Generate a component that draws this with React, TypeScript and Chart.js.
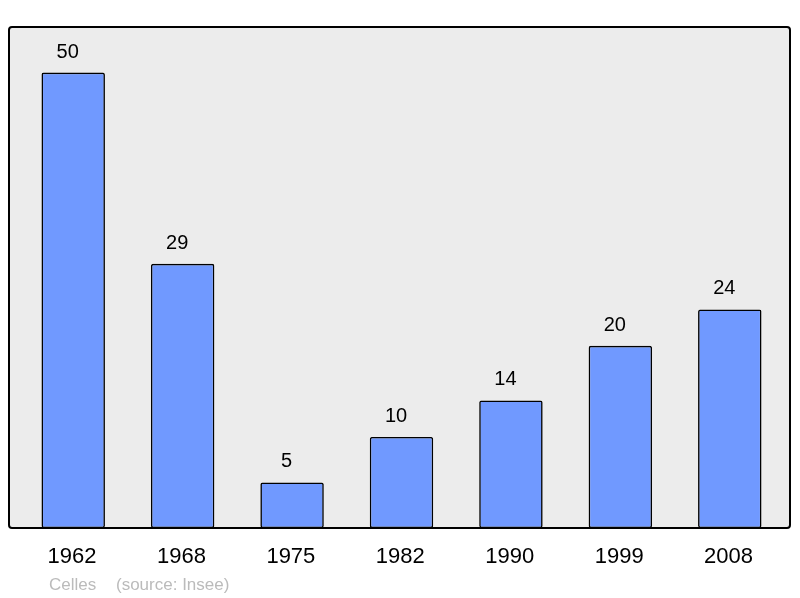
import React, { useEffect, useRef } from "react";
import { Chart, registerables } from "chart.js";

Chart.register(...registerables);

const years = ["1962", "1968", "1975", "1982", "1990", "1999", "2008"];
const population = [50, 29, 5, 10, 14, 20, 24];
const footerPlace = "Celles";
const footerSource = "(source: Insee)";

const FONT = "'Liberation Sans', Arial, sans-serif";

const framePlugin = {
  id: "frame",
  beforeDraw(chart: any) {
    const { ctx, chartArea } = chart;
    const l = chartArea.left - 9.5;
    const r = chartArea.right + 5.5;
    const t = chartArea.top;
    const b = chartArea.bottom;
    ctx.save();
    ctx.beginPath();
    ctx.roundRect(l, t, r - l, b - t, 3);
    ctx.fillStyle = "#ececec";
    ctx.fill();
    ctx.restore();
  },
  afterDatasetsDraw(chart: any) {
    const { ctx, chartArea } = chart;
    const l = chartArea.left - 9.5;
    const r = chartArea.right + 5.5;
    const t = chartArea.top;
    const b = chartArea.bottom;
    ctx.save();
    ctx.beginPath();
    ctx.roundRect(l, t, r - l, b - t, 3);
    ctx.lineWidth = 2;
    ctx.strokeStyle = "#000";
    ctx.stroke();

    const meta = chart.getDatasetMeta(0);
    const xScale = chart.scales.x;
    ctx.fillStyle = "#000";
    ctx.textAlign = "center";
    ctx.textBaseline = "middle";
    ctx.font = `20px ${FONT}`;
    meta.data.forEach((bar: any, i: number) => {
      ctx.fillText(String(population[i]), bar.x - 5.5, bar.y - 20.5);
    });
    ctx.font = `22px ${FONT}`;
    years.forEach((y, i) => {
      ctx.fillText(y, xScale.getPixelForValue(i) - 1.2, b + 29);
    });
    ctx.fillStyle = "#bbbbbb";
    ctx.font = `17px ${FONT}`;
    ctx.textAlign = "left";
    ctx.fillText(footerPlace, l + 40, b + 57);
    ctx.fillText(footerSource, l + 107, b + 57);
    ctx.restore();
  },
};

export default function App() {
  const ref = useRef<HTMLCanvasElement>(null);
  useEffect(() => {
    if (!ref.current) return;
    const chart = new Chart(ref.current, {
      type: "bar",
      data: {
        labels: years,
        datasets: [
          {
            data: population,
            backgroundColor: "#7099ff",
            borderColor: "#000",
            borderWidth: 1.6,
            borderRadius: 2,
            borderSkipped: false,
            barPercentage: 0.58,
            categoryPercentage: 1,
          },
        ],
      },
      options: {
        animation: false,
        responsive: false,
        layout: { padding: { left: 18.5, right: 15.5, top: 27, bottom: 70 } },
        plugins: { legend: { display: false }, tooltip: { enabled: false } },
        scales: {
          x: { display: false },
          y: { display: false, min: 0, max: 55 },
        },
      },
      plugins: [framePlugin],
    });
    return () => chart.destroy();
  }, []);
  return (
    <div style={{ position: "fixed", left: 0, top: 0, width: 800, height: 598, background: "#fff" }}>
      <canvas ref={ref} width={800} height={598} style={{ width: 800, height: 598 }} />
    </div>
  );
}
